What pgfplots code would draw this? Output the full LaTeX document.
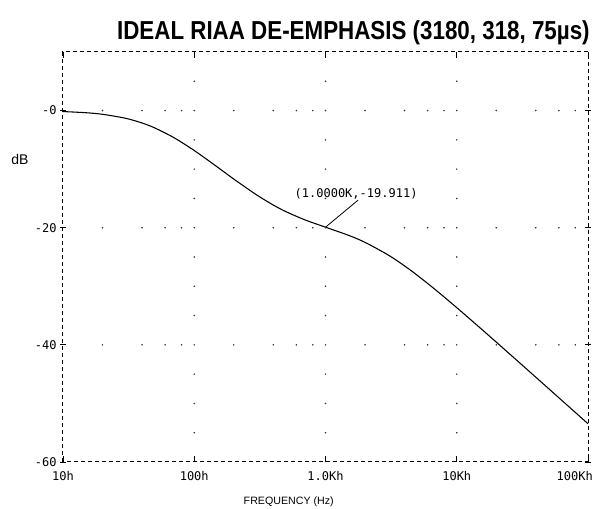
\documentclass[border=0pt]{standalone}
\usepackage{pgfplots}
\pgfplotsset{compat=1.18}
\usepackage{fontspec}
\setmainfont{Liberation Sans}
\newfontfamily\monofont{DejaVu Sans Mono}
\newfontfamily\titlefont{Liberation Sans Bold}[FakeStretch=0.86]
\begin{document}
\begin{tikzpicture}
\begin{axis}[
  name=ax,
  scale only axis,
  width=393.75pt, height=307.5pt,
  xmode=log, log basis x=10,
  xmin=10, xmax=100000, ymin=-60, ymax=10,
  xtick={10,100,1000,10000,100000},
  xticklabels={\mbox{\monofont 10h},\mbox{\monofont 100h},\mbox{\monofont 1.0Kh},\mbox{\monofont 10Kh},\mbox{\monofont\hspace*{-20pt}100Kh}},
  ytick={-60,-40,-20,0},
  yticklabels={\mbox{\monofont -60},\mbox{\monofont -40},\mbox{\monofont -20},\mbox{\monofont -0}},
  minor xtick={}, minor ytick={},
  tick label style={font=\fontsize{9}{10}\selectfont, black},
  yticklabel style={xshift=1pt},
  xticklabel style={yshift=-3.5pt},
  ytick align=center, xtick align=inside,
  major tick length=4.5pt,
  tick style={black, line width=0.6pt},
  axis line style={black, line width=0.75pt, dash pattern=on 3pt off 2.25pt},
  clip=false,
]
\coordinate (sw) at (rel axis cs:0,0);
\coordinate (ne) at (rel axis cs:1,1);
% grid dots (columns at major x, every 5 dB)
\addplot[only marks, mark=*, mark size=0.35pt, black!80] coordinates {
 (100,5)(100,0)(100,-5)(100,-10)(100,-15)(100,-20)(100,-25)(100,-30)(100,-35)(100,-40)(100,-45)(100,-50)(100,-55)
 (1000,5)(1000,0)(1000,-5)(1000,-10)(1000,-15)(1000,-20)(1000,-25)(1000,-30)(1000,-35)(1000,-40)(1000,-45)(1000,-50)(1000,-55)
 (10000,5)(10000,0)(10000,-5)(10000,-10)(10000,-15)(10000,-20)(10000,-25)(10000,-30)(10000,-35)(10000,-40)(10000,-45)(10000,-50)(10000,-55)
};
% grid dots (rows at major y, minor x)
\addplot[only marks, mark=*, mark size=0.35pt, black!80] coordinates {
 (20,0)(40,0)(60,0)(80,0)(200,0)(400,0)(600,0)(800,0)(2000,0)(4000,0)(6000,0)(8000,0)(20000,0)(40000,0)(60000,0)(80000,0)
 (20,-20)(40,-20)(60,-20)(80,-20)(200,-20)(400,-20)(600,-20)(800,-20)(2000,-20)(4000,-20)(6000,-20)(8000,-20)(20000,-20)(40000,-20)(60000,-20)(80000,-20)
 (20,-40)(40,-40)(60,-40)(80,-40)(200,-40)(400,-40)(600,-40)(800,-40)(2000,-40)(4000,-40)(6000,-40)(8000,-40)(20000,-40)(40000,-40)(60000,-40)(80000,-40)
};
% RIAA de-emphasis response
\addplot[black, line width=0.8pt, smooth] coordinates {
 (10,-0.168)(15,-0.370)(20,-0.637)(30,-1.318)(40,-2.119)(50,-2.965)(70,-4.628)
 (100,-6.823)(150,-9.640)(200,-11.691)(300,-14.426)(400,-16.128)(500,-17.264)(700,-18.678)
 (1000,-19.911)(1500,-21.306)(2000,-22.500)(3000,-24.652)(4000,-26.516)(5000,-28.120)(7000,-30.727)
 (10000,-33.649)(15000,-37.069)(20000,-39.531)(30000,-43.027)(40000,-45.517)(50000,-47.452)(70000,-50.371)(100000,-53.467)
};
\draw[black, line width=0.6pt] (axis cs:1000,-19.911) -- (axis cs:1770,-15.3);
\node[font=\monofont\fontsize{9}{10}\selectfont, inner sep=0pt] at (axis cs:1710,-14.2) {(1.0000K,-19.911)};
\node[font=\fontsize{10.5}{11}\selectfont, inner sep=0pt] at ([xshift=-32.25pt]axis cs:10,-8.3) {dB};
\node[font=\fontsize{8}{9}\selectfont, inner sep=0pt] at ([yshift=-30pt]axis cs:525,-60) {FREQUENCY (Hz)};
\end{axis}
\node[anchor=base east, inner sep=0pt, font=\titlefont\fontsize{19.5}{21}\selectfont] at ([shift={(1.5pt,9pt)}]ne) {IDEAL RIAA DE-EMPHASIS (3180, 318, 75µs)};
\pgfresetboundingbox
\path[use as bounding box] ([shift={(-47.25pt,-35.25pt)}]sw) rectangle ([shift={(4.5pt,39pt)}]ne);
\end{tikzpicture}
\end{document}
